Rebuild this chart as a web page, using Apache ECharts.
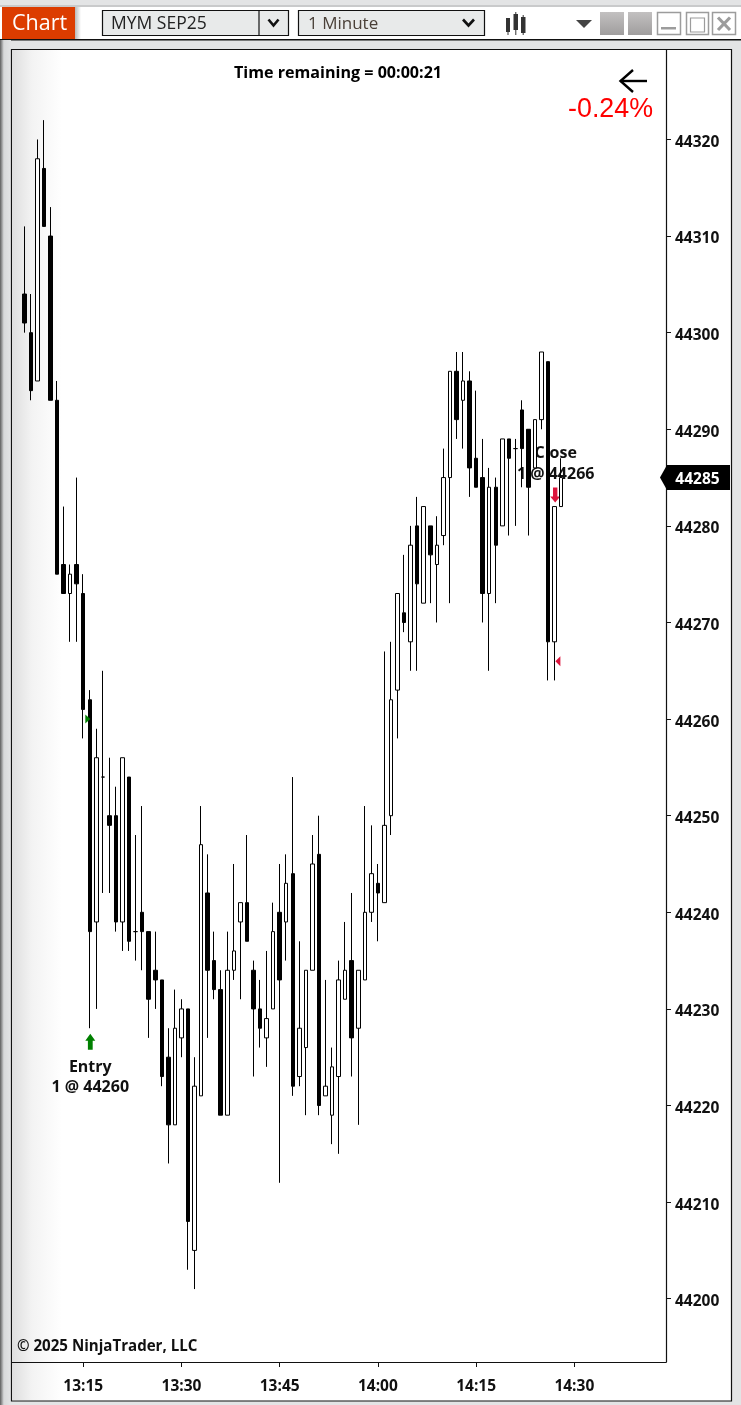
<!DOCTYPE html>
<html>
<head>
<meta charset="utf-8">
<style>html,body{margin:0;padding:0;background:#e3e4e5}#c{width:741px;height:1405px}</style>
<script src="https://cdn.jsdelivr.net/npm/echarts@6/dist/echarts.min.js"></script>
</head>
<body>
<div id="c"></div>
<script>
const startTime = '13:06';
const opens  = [44304,44300,44295,44317,44310,44293,44276,44273,44276,44273,44262,44239,44254,44250,44250,44239,44254,44238,44240,44238,44234,44233,44225,44218,44227,44230,44205,44221,44242,44235,44232,44219,44234,44239,44241,44234,44230,44227,44230,44240,44239,44244,44223,44226,44234,44246,44221,44219,44223,44231,44235,44228,44233,44240,44243,44241,44250,44263,44271,44268,44280,44272,44280,44276,44279,44285,44296,44293,44295,44287,44285,44273,44284,44280,44289,44288,44292,44290,44286,44291,44297,44268,44282];
const closes = [44301,44294,44318,44311,44293,44275,44273,44275,44274,44261,44238,44256,44254,44249,44239,44256,44237,44238,44238,44231,44233,44223,44218,44228,44230,44208,44222,44247,44234,44232,44219,44234,44236,44241,44237,44230,44228,44229,44238,44233,44243,44222,44228,44234,44245,44220,44222,44224,44233,44234,44227,44234,44240,44244,44242,44249,44262,44273,44270,44278,44274,44282,44277,44278,44285,44296,44291,44295,44286,44284,44273,44284,44278,44289,44287,44288,44288,44284,44291,44298,44268,44282,44285];
const lows   = [44300,44293,44295,44311,44293,44275,44273,44268,44268,44258,44228,44230,44242,44242,44238,44236,44236,44235,44234,44227,44230,44222,44214,44218,44225,44203,44201,44221,44227,44231,44219,44219,44233,44231,44237,44223,44226,44224,44230,44212,44235,44221,44222,44219,44234,44219,44221,44216,44215,44231,44223,44218,44233,44239,44237,44241,44248,44258,44269,44265,44265,44272,44272,44270,44278,44272,44289,44288,44283,44284,44270,44265,44272,44280,44279,44280,44284,44279,44286,44290,44264,44264,44282];
const highs  = [44311,44304,44320,44322,44313,44295,44282,44276,44285,44275,44263,44259,44265,44256,44253,44256,44254,44248,44251,44238,44238,44233,44228,44232,44231,44230,44225,44251,44246,44238,44234,44238,44245,44241,44248,44235,44233,44236,44241,44245,44246,44254,44237,44234,44248,44250,44233,44226,44235,44239,44242,44234,44251,44249,44245,44267,44268,44273,44277,44280,44283,44282,44280,44281,44288,44296,44298,44298,44296,44294,44289,44286,44285,44289,44289,44289,44293,44290,44291,44298,44297,44282,44287];
const priceTicks = [44200,44210,44220,44230,44240,44250,44260,44270,44280,44290,44300,44310,44320];
const timeTicks  = ['13:15','13:30','13:45','14:00','14:15','14:30'];
const lastPrice = 44285;
const entryTime = '13:16', entryPrice = 44260, entryArrowPrice = 44226.6, entryText = 'Entry\n1 @ 44260';
const closeTime = '14:27', closePrice = 44266, closeArrowPrice = 44283.2, closeText = 'Close\n1 @ 44266';
const TEXT_FONT = '"Open Sans"';

const toMin = s => { const [h, m] = s.split(':').map(Number); return h * 60 + m; };
const fromMin = v => { const h = Math.floor(v / 60), m = Math.round(v - h * 60); return h + ':' + String(m).padStart(2, '0'); };
const start = toMin(startTime);
const candles = opens.map((o, i) => [start + i, o, closes[i], lows[i], highs[i]]);

const xMin = 784.12, xMax = 884.0, yMin = 44193.45, yMax = 44329.26;

function rect(x, y, w, h, fill, extra) {
  return Object.assign({ type: 'rect', silent: true, z: 0, shape: { x, y, width: w, height: h }, style: { fill } }, extra || {});
}
function hgrad(stops) { return { type: 'linear', x: 0, y: 0, x2: 1, y2: 0, colorStops: stops }; }
function vgrad(stops) { return { type: 'linear', x: 0, y: 0, x2: 0, y2: 1, colorStops: stops }; }
function line(points, color, w, z) {
  return { type: 'polyline', silent: true, z: z === undefined ? 10 : z, shape: { points }, style: { stroke: color, fill: null, lineWidth: w } };
}
function txt(x, y, text, font, fill, align) {
  return { type: 'text', silent: true, z: 10, x, y, style: { text, font, fill, textAlign: align || 'left', textVerticalAlign: 'middle' } };
}
const btnGrey = vgrad([{ offset: 0, color: '#c2c0c0' }, { offset: 1, color: '#a09e9e' }]);

const graphics = [
  rect(0, 5, 741, 2, '#c9cacb'),
  rect(0, 7, 741, 32, '#ffffff'),
  rect(0, 39, 741, 1.5, '#111111'),
  rect(0, 40, 11, 1365, hgrad([{ offset: 0, color: '#5e5e5e' }, { offset: 0.35, color: '#d8d9da' }, { offset: 1, color: '#e3e4e5' }])),
  rect(2, 7, 73, 32, '#dc3c00'),
  rect(75, 7, 6, 32, hgrad([{ offset: 0, color: '#b9b9b9' }, { offset: 1, color: '#ffffff' }])),
  txt(12, 24, 'Chart', '21.5px ' + TEXT_FONT, '#ffffff'),
  rect(102.5, 10.5, 186, 25, '#e8eaea', { style: { fill: '#e8eaea', stroke: '#111', lineWidth: 1.2 } }),
  line([[259, 10.5], [259, 35.5]], '#111', 1.2),
  txt(111, 24, 'MYM SEP25', '17.5px ' + TEXT_FONT, '#222222'),
  line([[268.5, 19.5], [273.5, 25.5], [278.5, 19.5]], '#111', 2.6),
  rect(298.5, 10.5, 186, 25, '#e8eaea', { style: { fill: '#e8eaea', stroke: '#111', lineWidth: 1.2 } }),
  txt(308, 24, '1 Minute', '17px ' + TEXT_FONT, '#4a4038'),
  line([[463, 19.5], [468.5, 25.5], [474, 19.5]], '#111', 2.6),
  rect(506, 18, 4, 14, '#333'), line([[508, 18], [508, 35]], '#333', 1),
  rect(513.5, 14, 4.5, 16, '#333'), line([[515.8, 12], [515.8, 35]], '#333', 1),
  rect(521, 17, 4.5, 16, '#333'), line([[523.2, 15], [523.2, 35]], '#333', 1),
  { type: 'polygon', silent: true, z: 10, shape: { points: [[576, 20], [592, 20], [584, 28]] }, style: { fill: '#444' } },
  rect(600, 12, 24, 23, btnGrey),
  rect(628, 12, 24, 23, btnGrey),
  rect(657.5, 12.5, 23, 22, '#fff', { style: { fill: '#fff', stroke: '#9c9c9c', lineWidth: 1.5 } }),
  rect(661, 27, 15, 2.5, '#9c9c9c', { z: 1 }),
  rect(686.5, 12.5, 22, 22, '#fff', { style: { fill: '#fff', stroke: '#9c9c9c', lineWidth: 1.5 } }),
  rect(690.5, 18, 14, 14, '#fff', { z: 1, style: { fill: '#fff', stroke: '#9c9c9c', lineWidth: 1.2 } }),
  rect(712.5, 12.5, 23, 22, '#fff', { style: { fill: '#fff', stroke: '#9c9c9c', lineWidth: 1.5 } }),
  line([[718, 17.5], [730, 30]], '#9c9c9c', 3.2),
  line([[730, 17.5], [718, 30]], '#9c9c9c', 3.2),
  rect(11.5, 49.5, 720, 1351.5, '#ffffff', { style: { fill: '#ffffff', stroke: '#111', lineWidth: 1.2 } }),
  rect(12, 50, 50, 1350, hgrad([{ offset: 0, color: '#dedede' }, { offset: 0.4, color: '#f3f3f3' }, { offset: 1, color: '#ffffff' }]), { z: 1 }),
  txt(338, 73, 'Time remaining = 00:00:21', 'bold 16.1px ' + TEXT_FONT, '#000000', 'center'),
  line([[647, 81], [620.5, 81]], '#000', 2.4),
  line([[633, 70], [620.5, 81], [633, 92]], '#000', 2.4),
  txt(653, 110, '-0.24%', '26.8px "Liberation Sans"', '#ff0000', 'right'),
  txt(17, 1347, '\u00a9 2025 NinjaTrader, LLC', 'bold 15.1px ' + TEXT_FONT, '#111111')
];

const chart = echarts.init(document.getElementById('c'), null, { renderer: 'canvas' });
chart.setOption({
  animation: false,
  backgroundColor: '#e3e4e5',
  textStyle: { fontFamily: TEXT_FONT },
  graphic: { elements: graphics },
  grid: { left: 12, top: 50, width: 654, height: 1312, containLabel: false },
  xAxis: {
    type: 'value', min: xMin, max: xMax, splitLine: { show: false }, z: 2,
    axisLine: { show: true, onZero: false, lineStyle: { color: '#111', width: 1.2 } },
    axisTick: { show: true, length: 5, customValues: timeTicks.map(toMin), lineStyle: { color: '#111', width: 1 } },
    axisLabel: { customValues: timeTicks.map(toMin), formatter: v => fromMin(v), margin: 17, fontFamily: TEXT_FONT, fontWeight: 'bold', fontSize: 15.5, color: '#111' }
  },
  yAxis: {
    type: 'value', position: 'right', min: yMin, max: yMax, scale: true, splitLine: { show: false }, z: 2,
    axisLine: { show: true, onZero: false, lineStyle: { color: '#111', width: 1.2 } },
    axisTick: { show: true, length: 5, customValues: priceTicks, lineStyle: { color: '#111', width: 1 } },
    axisLabel: {
      customValues: priceTicks, formatter: v => '{p|' + v + '}', margin: 9,
      rich: { p: { padding: [6, 0, 0, 0], fontFamily: TEXT_FONT, fontWeight: 'bold', fontSize: 15.5, color: '#111' } }
    }
  },
  series: [
    {
      type: 'scatter', z: 1, clip: false, silent: true,
      data: [[toMin(entryTime), entryArrowPrice]],
      symbol: 'path://M5 0 L10 7 L7.4 7 L7.4 16 L2.6 16 L2.6 7 L0 7 Z', symbolSize: [10, 16], symbolOffset: [0.5, 0],
      itemStyle: { color: '#008000', opacity: 1 },
      label: { show: true, position: 'bottom', distance: 7, formatter: entryText, lineHeight: 20.5, fontFamily: TEXT_FONT, fontWeight: 'bold', fontSize: 16, color: '#111', align: 'center' }
    },
    {
      type: 'scatter', z: 1, clip: false, silent: true,
      data: [[toMin(closeTime), closeArrowPrice]],
      symbol: 'path://M2.8 0 L7.2 0 L7.2 9 L10 9 L5 15 L0 9 L2.8 9 Z', symbolSize: [10, 15], symbolOffset: [0.5, 0],
      itemStyle: { color: '#dc143c', opacity: 1 },
      label: { show: true, position: 'top', distance: 3, offset: [0.5, 0], formatter: closeText, lineHeight: 20.5, fontFamily: TEXT_FONT, fontWeight: 'bold', fontSize: 16, color: '#111', align: 'center' }
    },
    {
      type: 'candlestick', z: 2, clip: false, silent: true, barWidth: 4,
      data: candles,
      itemStyle: { color: '#ffffff', color0: '#000000', borderColor: '#000000', borderColor0: '#000000', borderWidth: 1 }
    },
    {
      type: 'scatter', z: 3, clip: false, silent: true,
      data: [[toMin(entryTime), entryPrice]],
      symbol: 'triangle', symbolRotate: -90, symbolSize: [9, 5], symbolOffset: [-2, 0],
      itemStyle: { color: '#008000', opacity: 1 }
    },
    {
      type: 'scatter', z: 3, clip: false, silent: true,
      data: [[toMin(closeTime), closePrice]],
      symbol: 'triangle', symbolRotate: 90, symbolSize: [10, 5], symbolOffset: [3.2, 0],
      itemStyle: { color: '#dc143c', opacity: 1 }
    },
    {
      type: 'scatter', z: 5, clip: false, silent: true,
      data: [[xMax, lastPrice]],
      symbol: 'path://M0 12.5 L7 0 L70 0 L70 25 L7 25 Z', symbolSize: [70, 25], symbolOffset: [29, 0],
      itemStyle: { color: '#000000', opacity: 1 },
      label: { show: true, position: 'inside', offset: [2.5, 2], formatter: p => String(p.value[1]), fontFamily: TEXT_FONT, fontWeight: 'bold', fontSize: 15.5, color: '#ffffff' }
    }
  ]
});
</script>
</body>
</html>
